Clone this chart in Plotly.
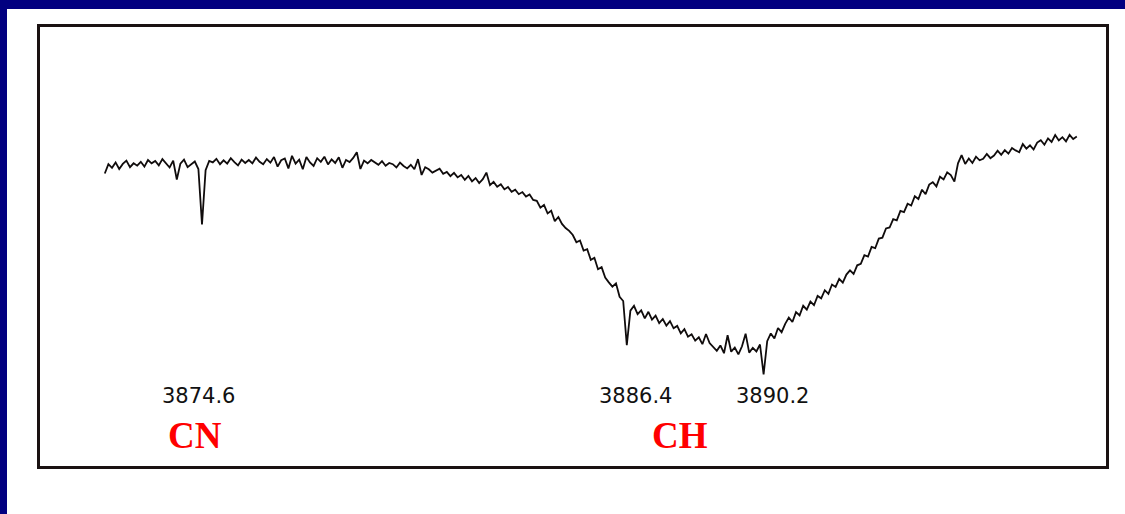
import plotly.graph_objects as go

# Sampling grid of the tracing (Angstrom)
wl_start = 3871.9
wl_step = 0.1

# Relative intensity (continuum near the CN line = 100), one value per sample
intensity = [
    97.5, 100.6, 99.4, 101.2, 99.0, 100.7, 101.8, 99.6, 100.9, 100.1,
    101.4, 99.8, 102.0, 100.9, 101.7, 100.2, 102.3, 101.0, 99.5, 101.8,
    95.5, 100.8, 102.1, 99.6, 100.4, 101.5, 99.0, 80.5, 98.6, 101.7,
    101.2, 102.4, 100.6, 101.9, 100.8, 102.6, 101.3, 100.2, 102.1, 101.0,
    102.0, 100.9, 102.8, 101.4, 100.6, 102.3, 101.1, 103.0, 99.8, 101.9,
    102.5, 99.2, 103.4, 100.8, 102.1, 98.9, 103.0, 101.2, 100.0, 102.6,
    101.4, 103.1, 100.5, 102.2, 101.0, 102.9, 99.4, 102.0, 101.3, 102.7,
    104.6, 99.0, 101.8, 100.9, 102.0, 101.2, 100.4, 101.6, 100.1, 101.0,
    100.6, 99.5, 101.1, 100.0, 99.2, 100.4, 98.9, 102.3, 97.0, 99.6,
    98.9, 97.8, 98.6, 99.1, 97.4, 98.0, 96.6, 97.7, 96.2, 97.0,
    95.4, 96.7, 94.9, 96.0, 94.3, 95.6, 97.8, 93.6, 94.7, 93.1,
    93.9, 92.2, 93.0, 91.4, 92.1, 90.6, 91.3, 89.8, 90.5, 88.7,
    88.4, 86.1, 87.0, 84.2, 85.1, 81.6, 83.0, 80.7, 79.3, 78.4,
    77.0, 74.6, 75.2, 71.8, 72.3, 68.7, 69.4, 65.6, 66.3, 62.8,
    61.2, 59.8, 60.9, 56.4, 55.0, 40.3, 51.8, 53.4, 50.6, 51.9,
    49.2, 51.4, 48.8, 50.1, 47.6, 49.0, 46.8, 48.3, 45.9, 46.7,
    44.2, 45.6, 43.1, 43.9, 41.8, 42.9, 40.6, 44.0, 41.0, 39.5,
    38.4, 40.2, 37.6, 43.6, 38.1, 39.5, 37.2, 39.9, 44.1, 37.8,
    39.4, 38.2, 40.5, 30.5, 41.6, 44.2, 42.5, 46.0, 44.6, 47.4,
    49.5, 48.0, 51.3, 50.2, 53.4, 52.1, 54.8, 53.6, 56.7, 55.9,
    58.6, 57.4, 60.5, 59.7, 62.4, 61.1, 63.8, 65.2, 64.0, 66.9,
    67.4, 70.3, 69.8, 73.0, 72.6, 75.8, 76.1, 79.2, 79.5, 82.3,
    81.9, 85.0, 84.6, 87.4, 86.8, 89.9, 89.0, 92.1, 90.6, 93.8,
    94.6, 93.2, 96.4, 95.5, 97.9, 97.0, 94.8, 100.9, 103.6, 100.7,
    102.5, 101.0, 103.1, 101.9, 102.4, 104.0, 102.6, 103.5, 105.1, 103.7,
    105.3, 104.1, 106.0, 105.2, 104.6, 107.3, 105.8, 106.9, 105.5, 107.8,
    108.6, 107.1, 109.2, 108.0, 110.3, 108.5, 109.6, 108.2, 110.4, 109.0, 109.8,
]
wavelength = [round(wl_start + wl_step * i, 2) for i in range(len(intensity))]

# Identified lines
line_labels = ["3874.6", "3886.4", "3890.2"]
line_wl = [3874.6, 3886.4, 3890.2]
line_label_shift = [-4, 9, 9]
band_names = ["CN", "CH"]
band_wl = [3874.4, 3887.88]

x_range = [3870.1, 3899.711]
y_range = [0, 146.33]

W, H = 1125, 514
ml, mr, mt, mb = 40, 19, 27, 48
pw, ph = W - ml - mr, H - mt - mb


def px_x(px):
    return (px - ml) / pw


def px_y(py):
    return (H - mb - py) / ph


fig = go.Figure()
fig.add_trace(go.Scatter(
    x=wavelength, y=intensity, mode="lines",
    line=dict(color="#100c0c", width=1.8),
    hoverinfo="skip", showlegend=False,
))

for lab, wl, sh in zip(line_labels, line_wl, line_label_shift):
    fig.add_annotation(
        x=wl, y=23.3, xref="x", yref="y", text=lab, showarrow=False,
        xshift=sh, xanchor="center", yanchor="middle",
        font=dict(family="DejaVu Sans", size=21, color="#111111"),
    )

for name, wl in zip(band_names, band_wl):
    fig.add_annotation(
        x=wl, y=10.3, xref="x", yref="y", text=f"<b>{name}</b>", showarrow=False,
        xanchor="center", yanchor="middle",
        font=dict(family="Liberation Serif", size=37, color="#ff0000"),
    )

# Navy frame along the top and left edges
navy = "#020080"
fig.add_shape(type="rect", xref="paper", yref="paper",
              x0=px_x(0), x1=px_x(W), y0=px_y(9), y1=px_y(0),
              fillcolor=navy, line=dict(width=0), layer="below")
fig.add_shape(type="rect", xref="paper", yref="paper",
              x0=px_x(0), x1=px_x(7), y0=px_y(H), y1=px_y(0),
              fillcolor=navy, line=dict(width=0), layer="below")

axis_common = dict(showgrid=False, zeroline=False, showticklabels=False,
                   ticks="", showline=True, mirror=True,
                   linecolor="#1a1212", linewidth=3)
fig.update_xaxes(range=x_range, **axis_common)
fig.update_yaxes(range=y_range, **axis_common)

fig.update_layout(
    width=W, height=H, autosize=False,
    margin=dict(l=ml, r=mr, t=mt, b=mb, pad=0),
    paper_bgcolor="white", plot_bgcolor="white",
    showlegend=False,
)

fig.write_html("out.html")
